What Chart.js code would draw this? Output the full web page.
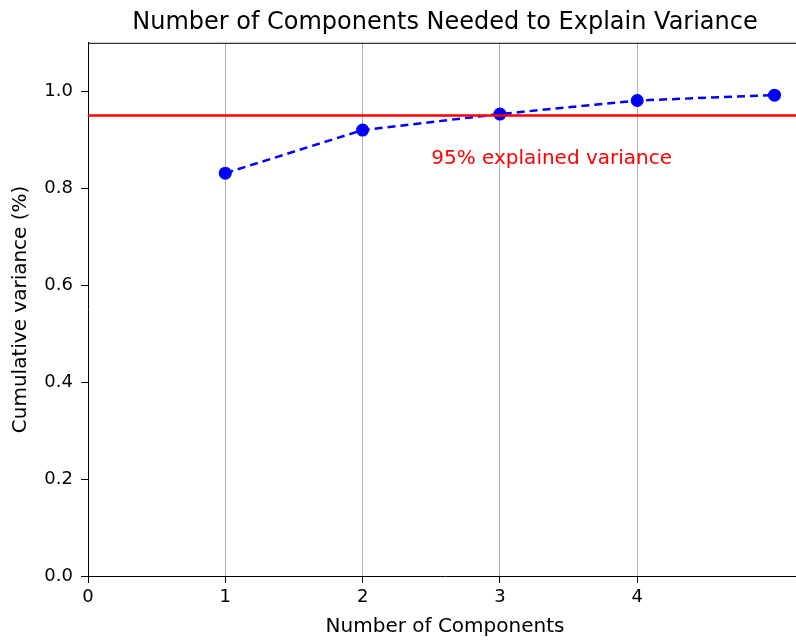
<!DOCTYPE html>
<html>
<head>
<meta charset="utf-8">
<script src="https://cdn.jsdelivr.net/npm/chart.js@4.4.1/dist/chart.umd.min.js"></script>
<style>
  html, body { margin: 0; padding: 0; background: #fff; overflow: hidden; }
  .chart-container { width: 890px; height: 640px; }
</style>
</head>
<body>
<div class="chart-container"><canvas id="chart"></canvas></div>
<script>
// Data
const components = [1, 2, 3, 4, 5];
const cumulativeVariance = [0.831, 0.92, 0.953, 0.981, 0.992];
const xTicks = [0, 1, 2, 3, 4];
const yTicks = [0, 0.2, 0.4, 0.6, 0.8, 1.0];
const threshold = 0.95;
const thresholdLabel = "95% explained variance";
const labelPos = [2.5, 0.85];

const FONT = "'DejaVu Sans', sans-serif";

// Top spine and threshold label
const extras = {
  id: "extras",
  afterDraw(chart) {
    const { ctx, chartArea, scales } = chart;
    ctx.save();
    ctx.strokeStyle = "#000";
    ctx.lineWidth = 1;
    ctx.beginPath();
    ctx.moveTo(chartArea.left, chartArea.top + 0.5);
    ctx.lineTo(chartArea.right, chartArea.top + 0.5);
    ctx.stroke();

    ctx.fillStyle = "#ff0000";
    ctx.font = "20px " + FONT;
    ctx.textAlign = "left";
    ctx.textBaseline = "alphabetic";
    ctx.fillText(thresholdLabel, scales.x.getPixelForValue(labelPos[0]), scales.y.getPixelForValue(labelPos[1]));
    ctx.restore();
  },
};

const ctx = document.getElementById("chart").getContext("2d");
new Chart(ctx, {
  type: "line",
  data: {
    datasets: [
      {
        data: components.map((c, i) => ({ x: c, y: cumulativeVariance[i] })),
        borderColor: "#0000ff",
        backgroundColor: "#0000ff",
        borderWidth: 2.5,
        borderDash: [8, 5],
        pointRadius: 6.5,
        pointHoverRadius: 6.5,
        pointBorderWidth: 0,
        tension: 0,
        order: 2,
      },
      {
        data: [{ x: 0, y: threshold }, { x: 5.2, y: threshold }],
        borderColor: "#ff0000",
        borderWidth: 2.5,
        pointRadius: 0,
        order: 1,
      },
    ],
  },
  options: {
    responsive: true,
    maintainAspectRatio: false,
    devicePixelRatio: 1,
    animation: false,
    layout: { padding: 0 },
    plugins: {
      legend: { display: false },
      tooltip: { enabled: false },
      title: {
        display: true,
        text: "Number of Components Needed to Explain Variance",
        color: "#000",
        font: { family: FONT, size: 24, weight: "normal" },
        padding: { top: 8, bottom: 6 },
      },
    },
    scales: {
      x: {
        type: "linear",
        min: 0,
        max: 5.2,
        afterBuildTicks: (axis) => {
          axis.ticks = xTicks.map((v) => ({ value: v }));
        },
        afterFit: (scale) => {
          scale.height = 64;
        },
        ticks: {
          color: "#000",
          font: { family: FONT, size: 18 },
          padding: 4,
          maxRotation: 0,
        },
        grid: {
          color: (c) => (c.tick && c.tick.value === 0 ? "rgba(0,0,0,0)" : "#b0b0b0"),
          tickColor: "#000",
          tickLength: 7,
          lineWidth: 1,
        },
        border: { color: "#000", width: 1 },
        title: {
          display: true,
          text: "Number of Components",
          color: "#000",
          font: { family: FONT, size: 20 },
          padding: { top: 1, bottom: 1 },
        },
      },
      y: {
        type: "linear",
        min: 0,
        max: 1.1,
        afterBuildTicks: (axis) => {
          axis.ticks = yTicks.map((v) => ({ value: v }));
        },
        afterFit: (scale) => {
          scale.width = 88;
        },
        ticks: {
          color: "#000",
          font: { family: FONT, size: 18 },
          padding: 8,
          callback: (v) => Number(v).toFixed(1),
        },
        grid: {
          drawOnChartArea: false,
          tickColor: "#000",
          tickLength: 7,
        },
        border: { color: "#000", width: 1 },
        title: {
          display: true,
          text: "Cumulative variance (%)",
          color: "#000",
          font: { family: FONT, size: 20 },
          padding: { top: 9, bottom: 4 },
        },
      },
      // empty right-hand box so the title centres over the plot like the reference
      spacer: {
        type: "linear",
        position: "right",
        display: true,
        afterFit: (scale) => {
          scale.width = 88;
        },
        ticks: { display: false },
        grid: { display: false, drawTicks: false },
        border: { display: false },
      },
    },
  },
  plugins: [extras],
});
</script>
</body>
</html>
